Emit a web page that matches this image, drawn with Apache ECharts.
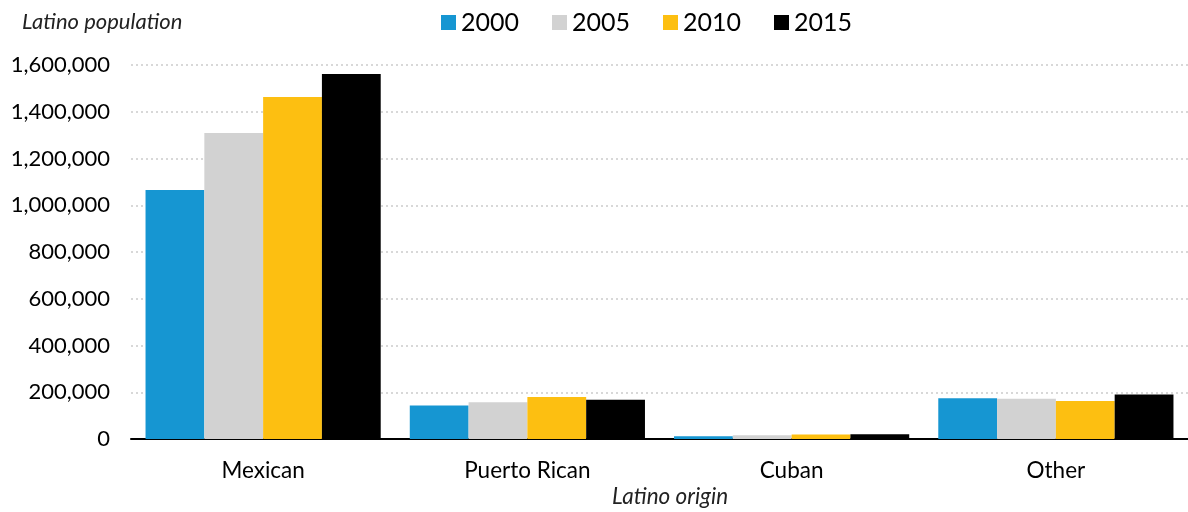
<!DOCTYPE html>
<html><head><meta charset="utf-8">
<script src="https://cdn.jsdelivr.net/npm/echarts@6/dist/echarts.min.js"></script>
<style>html,body{margin:0;padding:0;background:#fff}#c{width:1188px;height:512px}</style>
</head><body><div id="c"></div>
<script>
const categories = ['Mexican', 'Puerto Rican', 'Cuban', 'Other'];
const years = ['2000', '2005', '2010', '2015'];
const v2000 = [1065000, 143000, 11500, 174000];
const v2005 = [1309000, 157000, 16000, 172000];
const v2010 = [1463000, 180000, 19000, 163000];
const v2015 = [1561000, 168000, 20000, 190000];
const colors = ['#1696d2', '#d2d2d2', '#fdbf11', '#000000'];
const values = [v2000, v2005, v2010, v2015];

const chart = echarts.init(document.getElementById('c'));
const F = 'Lato, "Open Sans", sans-serif';
chart.setOption({
  animation: false,
  textStyle: { fontFamily: F },
  title: [
    { text: 'Latino population', left: 17, top: 6, textStyle: { fontFamily: F, fontStyle: 'italic', fontWeight: 'normal', fontSize: 22, color: '#222' } },
    { text: 'Latino origin', left: 665, top: 480, textAlign: 'center', textStyle: { fontFamily: F, fontStyle: 'italic', fontWeight: 'normal', fontSize: 22.5, color: '#222' } }
  ],
  legend: {
    data: years, left: 436, top: 5, itemWidth: 15, itemHeight: 15, itemGap: 33,
    icon: 'rect',
    textStyle: { fontFamily: F, fontSize: 25, color: '#000' },
    selectedMode: false
  },
  grid: { left: 131, right: 0, top: 65, bottom: 73, containLabel: false },
  xAxis: {
    type: 'category', data: categories,
    axisLine: { lineStyle: { color: '#000', width: 2 } },
    axisTick: { show: false },
    axisLabel: { fontFamily: F, fontSize: 22.5, color: '#000', margin: 20 }
  },
  yAxis: {
    type: 'value', min: 0, max: 1600000, interval: 200000,
    axisLine: { show: false }, axisTick: { show: false },
    axisLabel: { fontFamily: F, fontSize: 22, color: '#000', margin: 21,
      formatter: v => v.toLocaleString('en-US') },
    splitLine: { lineStyle: { color: '#cccccc', type: [2, 3], width: 1.5 } }
  },
  series: years.map((y, i) => ({
    name: y, type: 'bar', data: values[i],
    itemStyle: { color: colors[i] },
    barGap: '0%', barCategoryGap: '11%'
  }))
});
</script></body></html>
